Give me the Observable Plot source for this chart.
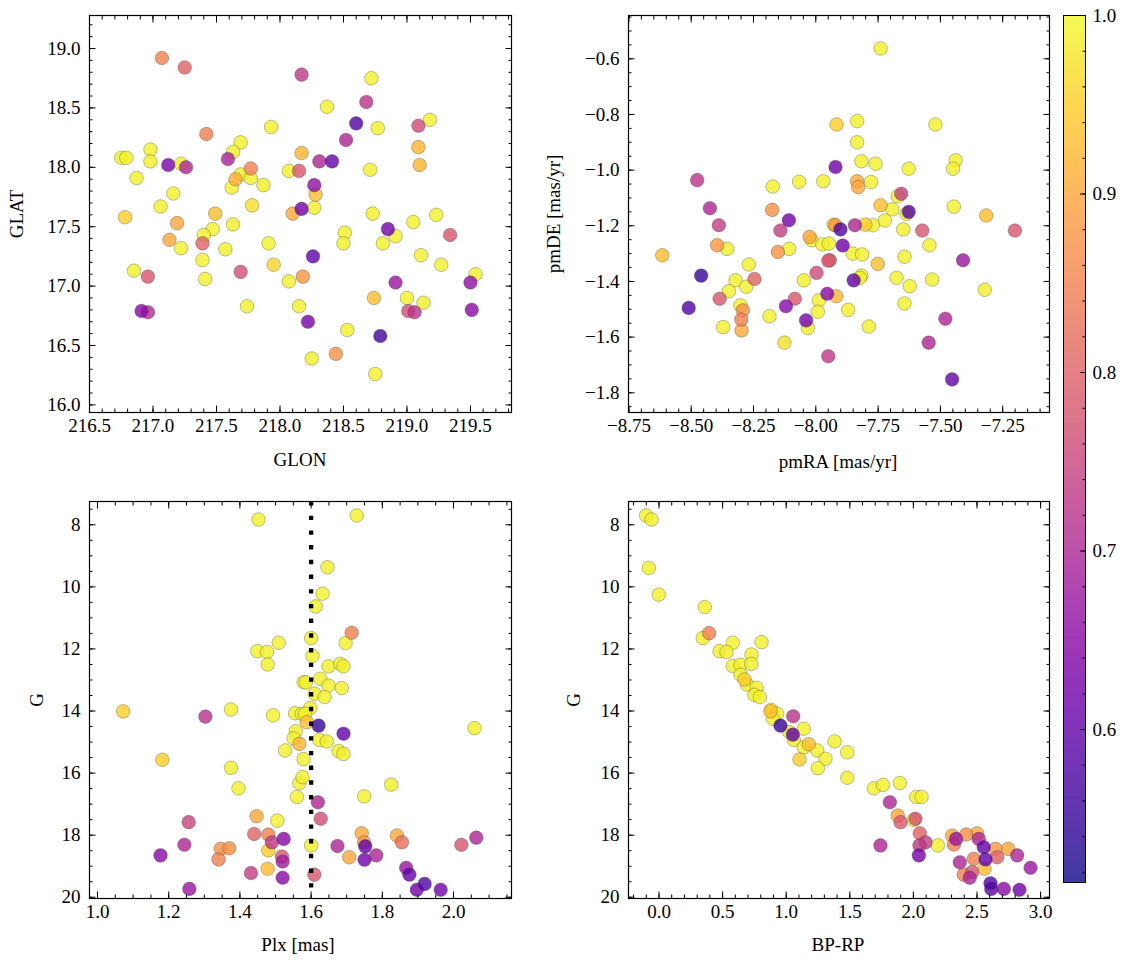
<!DOCTYPE html>
<html><head><meta charset="utf-8">
<script src="https://cdn.jsdelivr.net/npm/d3@7"></script>
<script src="https://cdn.jsdelivr.net/npm/@observablehq/plot@0.6"></script>
<style>
body{margin:0;background:#fff;}
#fig{position:relative;width:1133px;height:965px;font-family:"Liberation Serif",serif;font-size:19px;color:#000;overflow:hidden;}
#fig svg{position:absolute;}
#fig svg text{font-family:"Liberation Serif",serif !important;font-size:19px;}
.lab{position:absolute;white-space:nowrap;transform:translate(-50%,-50%);line-height:1;}
.rot{transform:translate(-50%,-50%) rotate(-90deg);}
</style></head><body><div id="fig"></div>
<script>
// ---------- data ----------
// Panel 1: GLON / GLAT / membership probability
const p1_glon = [217.07,217.25,218.17,217.93,217.42,217.69,217.63,217.59,216.98,216.98,216.75,216.79,217.12,217.22,217.26,216.87,217.69,217.77,217.77,217.65,217.62,217.87,218.07,218.15,218.17,217.16,217.06,216.78,217.78,217.49,217.19,217.63,218.10,218.17,217.47,217.40,217.39,217.13,217.22,217.57,217.91,217.39,217.95,216.85,216.96,217.41,217.69,218.07,218.18,216.91,216.96,217.74,218.15,218.22,218.72,218.37,218.68,218.60,218.77,218.52,219.09,219.18,219.09,219.10,218.31,218.41,218.71,218.27,218.28,218.27,218.73,219.05,219.23,218.85,218.91,218.81,218.51,218.50,219.34,218.26,219.11,219.27,219.54,219.50,218.91,218.74,219.00,219.13,219.01,219.06,219.51,218.53,218.79,218.25,218.44,218.75];
const p1_glat = [18.92,18.84,18.78,18.34,18.28,18.21,18.13,18.07,18.15,18.05,18.08,18.08,18.02,18.03,18.00,17.91,17.94,17.99,17.91,17.90,17.83,17.85,17.97,17.97,18.12,17.78,17.67,17.58,17.68,17.61,17.53,17.52,17.61,17.65,17.48,17.43,17.36,17.39,17.32,17.31,17.36,17.22,17.18,17.13,17.08,17.06,17.12,17.04,17.08,16.79,16.78,16.83,16.83,16.70,18.75,18.51,18.55,18.37,18.33,18.23,18.35,18.40,18.17,18.02,18.05,18.05,17.98,17.85,17.77,17.66,17.61,17.54,17.60,17.48,17.42,17.36,17.45,17.36,17.43,17.25,17.26,17.18,17.10,17.03,17.03,16.90,16.90,16.86,16.79,16.78,16.80,16.63,16.58,16.39,16.43,16.26];
const p1_prob = [0.85,0.80,0.73,0.99,0.85,0.99,0.99,0.69,0.99,0.99,0.99,0.99,0.63,0.99,0.70,0.99,0.99,0.85,0.99,0.91,0.99,0.99,0.99,0.78,0.92,0.99,0.99,0.95,0.97,0.93,0.90,0.99,0.90,0.62,0.99,0.99,0.80,0.90,0.99,0.99,0.99,0.99,0.96,0.99,0.78,0.99,0.77,0.99,0.88,0.65,0.71,0.99,0.99,0.63,0.99,0.99,0.72,0.58,0.99,0.70,0.76,0.99,0.92,0.92,0.70,0.60,0.99,0.66,0.93,0.99,0.99,0.99,0.99,0.62,0.99,0.99,0.99,0.99,0.78,0.60,0.99,0.99,0.99,0.66,0.67,0.93,0.99,0.99,0.77,0.72,0.65,0.99,0.56,0.99,0.87,0.99];

// Panel 2: proper motions
const p2_pmra = [-8.616,-8.476,-8.460,-8.510,-8.425,-8.389,-8.396,-8.356,-8.269,-8.322,-8.246,-8.349,-8.279,-8.386,-8.302,-8.293,-8.299,-8.298,-8.372,-8.186,-8.126,-8.173,-8.067,-7.970,-8.175,-8.108,-8.142,-8.152,-8.107,-8.025,-8.016,-7.974,-7.950,-7.997,-8.048,-8.084,-8.120,-7.988,-7.992,-8.039,-8.032,-7.954,-7.950,-7.740,-7.917,-7.834,-7.520,-7.834,-7.817,-7.760,-7.921,-7.627,-7.439,-7.449,-7.834,-7.830,-7.778,-7.671,-7.657,-7.740,-7.693,-7.636,-7.627,-7.723,-7.446,-7.316,-7.201,-7.573,-7.649,-7.921,-7.928,-7.901,-7.843,-7.801,-7.771,-7.892,-7.948,-7.944,-7.852,-7.814,-7.751,-7.644,-7.544,-7.409,-7.817,-7.823,-7.848,-7.676,-7.623,-7.533,-7.322,-7.918,-7.870,-7.644,-7.787,-7.480,-7.547,-7.453];
const p2_pmde = [-1.306,-1.036,-1.379,-1.495,-1.137,-1.198,-1.270,-1.283,-1.339,-1.396,-1.391,-1.435,-1.419,-1.462,-1.486,-1.504,-1.537,-1.576,-1.564,-1.525,-1.620,-1.059,-1.042,-1.040,-1.143,-1.180,-1.217,-1.294,-1.283,-1.240,-1.252,-1.267,-1.325,-1.369,-1.396,-1.462,-1.489,-1.468,-1.509,-1.540,-1.567,-1.444,-1.669,-0.563,-0.836,-0.824,-0.836,-0.900,-0.968,-0.977,-0.989,-0.995,-0.965,-0.995,-1.040,-1.061,-1.043,-1.094,-1.085,-1.126,-1.141,-1.157,-1.150,-1.181,-1.131,-1.163,-1.217,-1.217,-1.213,-1.198,-1.196,-1.213,-1.198,-1.196,-1.198,-1.271,-1.264,-1.324,-1.300,-1.303,-1.337,-1.311,-1.270,-1.324,-1.379,-1.387,-1.396,-1.387,-1.417,-1.393,-1.430,-1.453,-1.502,-1.479,-1.562,-1.534,-1.620,-1.752];
const p2_prob = [0.93,0.72,0.55,0.58,0.70,0.74,0.88,0.99,0.99,0.99,0.80,0.99,0.99,0.78,0.99,0.87,0.85,0.90,0.99,0.99,0.97,0.99,0.99,0.99,0.87,0.62,0.74,0.87,0.99,0.90,0.99,0.99,0.78,0.76,0.99,0.78,0.65,0.99,0.99,0.63,0.99,0.65,0.73,0.99,0.95,0.99,0.99,0.99,0.99,0.99,0.62,0.99,0.99,0.99,0.90,0.90,0.99,0.99,0.74,0.93,0.99,0.99,0.58,0.99,0.99,0.93,0.78,0.78,0.99,0.88,0.95,0.58,0.70,0.95,0.99,0.62,0.99,0.80,0.99,0.99,0.93,0.99,0.99,0.67,0.99,0.99,0.60,0.99,0.99,0.99,0.99,0.92,0.99,0.99,0.99,0.70,0.70,0.60];

// Panel 3: parallax / G magnitude
const p3_plx = [1.452,1.449,1.476,1.478,1.509,1.579,1.072,1.303,1.375,1.493,1.555,1.574,1.557,1.551,1.567,1.527,1.579,1.182,1.375,1.396,1.567,1.560,1.447,1.505,1.256,1.440,1.480,1.490,1.523,1.244,1.177,1.346,1.370,1.340,1.480,1.518,1.520,1.431,1.478,1.520,1.258,1.728,1.646,1.632,1.613,1.714,1.697,1.600,1.604,1.649,1.682,1.691,1.585,1.626,1.649,1.686,1.610,1.638,1.598,1.583,1.588,1.621,1.691,2.059,1.623,1.644,1.677,1.691,1.576,1.825,1.749,1.619,1.627,1.742,1.749,1.752,1.750,1.674,1.707,1.783,1.841,1.855,2.022,2.064,1.600,1.609,1.867,1.876,1.919,1.897,1.964];
const p3_g = [7.83,12.07,12.10,12.50,11.80,13.07,14.01,14.18,13.95,14.14,14.07,14.09,14.65,14.88,15.06,15.27,15.55,15.57,15.83,16.49,16.32,16.77,17.39,17.53,17.58,17.96,17.98,18.23,18.12,18.31,18.65,18.44,18.42,18.78,18.49,18.69,18.85,19.22,19.08,19.37,19.73,7.70,9.37,10.22,10.63,11.48,11.81,11.65,12.22,12.56,12.48,12.56,13.08,12.96,13.18,13.26,13.44,13.55,13.90,14.09,14.36,14.47,14.73,14.55,14.93,14.98,15.29,15.38,16.13,16.37,16.75,16.94,17.47,17.94,18.23,18.36,18.79,18.35,18.71,18.65,18.01,18.23,18.31,18.08,18.33,19.27,19.05,19.27,19.57,19.76,19.76];
const p3_prob = [0.99,0.99,0.99,0.99,0.99,0.99,0.95,0.72,0.99,0.99,0.99,0.99,0.99,0.99,0.92,0.99,0.99,0.95,0.99,0.99,0.99,0.99,0.90,0.99,0.75,0.80,0.85,0.73,0.65,0.70,0.65,0.87,0.87,0.85,0.95,0.78,0.68,0.74,0.93,0.65,0.67,0.99,0.99,0.99,0.99,0.85,0.99,0.99,0.99,0.99,0.99,0.99,0.99,0.99,0.99,0.99,0.99,0.99,0.99,0.99,0.93,0.55,0.60,0.99,0.99,0.99,0.99,0.99,0.99,0.99,0.99,0.70,0.77,0.90,0.88,0.60,0.62,0.70,0.90,0.70,0.90,0.82,0.78,0.70,0.99,0.78,0.67,0.60,0.58,0.62,0.62];
const plxLine = [1.60];

// Panel 4: colour / G magnitude
const p4_bprp = [-0.101,-0.059,-0.080,-0.002,0.360,0.344,0.394,0.580,0.806,0.476,0.531,0.580,0.641,0.727,0.725,0.641,0.672,0.693,0.767,0.751,0.793,0.882,0.877,0.929,0.895,1.055,0.955,1.052,1.024,1.138,1.060,1.178,1.138,1.244,1.309,1.105,1.249,1.380,1.480,1.480,1.689,1.760,1.893,2.022,2.064,1.815,1.877,1.899,2.003,2.016,2.050,1.741,2.048,2.095,2.043,2.192,2.305,2.318,2.336,2.415,2.501,2.514,2.553,2.365,2.475,2.567,2.645,2.659,2.745,2.816,2.921,2.396,2.462,2.443,2.559,2.606,2.612,2.711,2.834];
const p4_g = [7.70,7.83,9.39,10.25,10.65,11.65,11.49,11.80,11.78,12.07,12.10,12.55,12.51,12.18,12.48,12.83,12.98,13.15,13.25,13.48,13.55,13.96,14.01,14.09,14.25,14.17,14.47,14.76,14.68,14.57,14.93,15.07,15.17,15.27,15.54,15.56,15.84,14.98,15.33,16.15,16.49,16.38,16.32,16.77,16.77,16.94,17.37,17.58,17.51,17.47,17.94,18.33,18.33,18.23,18.65,18.33,18.01,18.30,18.12,17.98,17.94,18.12,18.39,18.87,18.76,18.78,18.44,18.71,18.44,18.65,19.05,19.27,19.19,19.37,19.08,19.55,19.73,19.73,19.76];
const p4_prob = [0.99,0.99,0.99,0.99,0.99,0.99,0.85,0.99,0.99,0.99,0.99,0.99,0.99,0.99,0.99,0.99,0.95,0.99,0.99,0.99,0.99,0.99,0.93,0.99,0.99,0.72,0.55,0.60,0.99,0.99,0.99,0.93,0.99,0.99,0.99,0.95,0.99,0.99,0.99,0.99,0.99,0.99,0.99,0.99,0.99,0.70,0.90,0.78,0.99,0.77,0.80,0.70,0.73,0.74,0.63,0.99,0.90,0.85,0.67,0.87,0.90,0.70,0.60,0.70,0.85,0.60,0.88,0.80,0.90,0.70,0.67,0.85,0.78,0.70,0.93,0.58,0.60,0.65,0.62];

// Tick labels
const p1_xticks = [216.5,217.0,217.5,218.0,218.5,219.0,219.5];
const p1_yticks = [16.0,16.5,17.0,17.5,18.0,18.5,19.0];
const p2_xticks = [-8.75,-8.50,-8.25,-8.00,-7.75,-7.50,-7.25];
const p2_yticks = [-1.8,-1.6,-1.4,-1.2,-1.0,-0.8,-0.6];
const p3_xticks = [1.0,1.2,1.4,1.6,1.8,2.0];
const g_ticks = [8,10,12,14,16,18,20];
const p4_xticks = [0.0,0.5,1.0,1.5,2.0,2.5,3.0];
const cb_ticks = [0.6,0.7,0.8,0.9,1.0];
const CDOMAIN = [0.5143, 1.0];

// ---------- drawing ----------
const STYLE = 'background:transparent;overflow:visible;font-family:"Liberation Serif",serif;font-size:19px;color:black;';
const fig = document.getElementById("fig");
const M = {l: 80, r: 40, t: 30, b: 50};

function minor(domain, step) {
  const lo = Math.min(...domain), hi = Math.max(...domain);
  return d3.range(Math.ceil(lo / step - 1e-9), Math.floor(hi / step + 1e-9) + 1).map(k => +(k * step).toFixed(6));
}
function inDom(vals, domain) {
  const lo = Math.min(...domain) - 1e-9, hi = Math.max(...domain) + 1e-9;
  return vals.filter(v => v >= lo && v <= hi);
}
function tickMarks(xd, yd, xMaj, yMaj, xStep, yStep) {
  const blank = () => "";
  const o = {tickFormat: blank, label: null, strokeWidth: 1};
  const out = [];
  for (const a of ["bottom", "top"]) {
    out.push(Plot.axisX(inDom(xMaj, xd), {...o, anchor: a, tickSize: -6.5}));
    out.push(Plot.axisX(minor(xd, xStep), {...o, anchor: a, tickSize: -3.5}));
  }
  for (const a of ["left", "right"]) {
    out.push(Plot.axisY(inDom(yMaj, yd), {...o, anchor: a, tickSize: -6.5}));
    out.push(Plot.axisY(minor(yd, yStep), {...o, anchor: a, tickSize: -3.5}));
  }
  return out;
}

function panel(o) {
  const data = o.xs.map((x, i) => ({x, y: o.ys[i], p: o.ps[i]})).sort((a, b) => b.p - a.p);
  const svg = Plot.plot({
    width: o.W + M.l + M.r, height: o.H + M.t + M.b,
    marginLeft: M.l, marginRight: M.r, marginTop: M.t, marginBottom: M.b,
    style: STYLE,
    x: {domain: o.xd, label: null},
    y: {domain: o.yd, reverse: !!o.yrev, label: null},
    color: {type: "linear", scheme: "plasma", domain: CDOMAIN},
    marks: [
      Plot.dot(data, {x: "x", y: "y", fill: "p", r: 6.8, fillOpacity: 0.8, stroke: "#3a3a3a", strokeOpacity: 0.55, strokeWidth: 0.6}),
      ...(o.extra || []),
      Plot.frame({stroke: "black", strokeWidth: 1.2}),
      ...tickMarks(o.xd, o.yd, o.xt, o.yt, o.xs_step, o.ys_step),
      Plot.axisX(inDom(o.xt, o.xd), {anchor: "bottom", tickSize: 0, tickPadding: 6, tickFormat: d3.format(o.xf), label: null}),
      Plot.axisY(inDom(o.yt, o.yd), {anchor: "left", tickSize: 0, tickPadding: 9, tickFormat: d3.format(o.yf), label: null})
    ]
  });
  svg.style.left = (o.L - M.l) + "px";
  svg.style.top = (o.T - M.t) + "px";
  fig.appendChild(svg);
}

panel({xs: p1_glon, ys: p1_glat, ps: p1_prob, L: 89, T: 15, W: 422, H: 397,
  xd: [216.5, 219.823], yd: [15.936, 19.278], xt: p1_xticks, yt: p1_yticks,
  xs_step: 0.1, ys_step: 0.1, xf: ".1f", yf: ".1f"});

panel({xs: p2_pmra, ys: p2_pmde, ps: p2_prob, L: 628, T: 15, W: 421, H: 397,
  xd: [-8.7516, -7.0622], yd: [-1.8709, -0.4444], xt: p2_xticks, yt: p2_yticks,
  xs_step: 0.05, ys_step: 0.05, xf: ".2f", yf: ".1f"});

panel({xs: p3_plx, ys: p3_g, ps: p3_prob, L: 89, T: 501, W: 422, H: 397,
  xd: [0.9775, 2.1629], yd: [7.25, 20.04], yrev: true, xt: p3_xticks, yt: g_ticks,
  xs_step: 0.05, ys_step: 0.5, xf: ".1f", yf: "d",
  extra: [Plot.ruleX(plxLine, {stroke: "black", strokeWidth: 4.3, strokeDasharray: "4.4 10.3"})]});

panel({xs: p4_bprp, ys: p4_g, ps: p4_prob, L: 628, T: 501, W: 421, H: 397,
  xd: [-0.2398, 3.070], yd: [7.25, 20.04], yrev: true, xt: p4_xticks, yt: g_ticks,
  xs_step: 0.1, ys_step: 0.5, xf: ".1f", yf: "d"});

// colorbar (plasma at 80% opacity over white, drawn opaque to avoid seams)
(function () {
  const step = 0.0025;
  const vals = d3.range(CDOMAIN[0], CDOMAIN[1], step);
  const CB = {L: 1063, T: 15, W: 22, H: 867};
  const m = {l: 10, r: 60, t: 20, b: 20};
  const blank = () => "";
  const svg = Plot.plot({
    width: CB.W + m.l + m.r, height: CB.H + m.t + m.b,
    marginLeft: m.l, marginRight: m.r, marginTop: m.t, marginBottom: m.b,
    style: STYLE,
    x: {domain: [0, 1], label: null, axis: null},
    y: {domain: CDOMAIN, label: null},
    color: {type: "linear", domain: CDOMAIN, interpolate: t => d3.interpolateRgb("white", d3.interpolatePlasma(t))(0.8)},
    marks: [
      Plot.rect(vals, {x1: () => 0, x2: () => 1, y1: d => d, y2: d => Math.min(d + step * 1.5, CDOMAIN[1]), fill: d => d + step / 2}),
      Plot.frame({stroke: "black", strokeWidth: 1}),
      Plot.axisY(cb_ticks, {anchor: "right", tickSize: -6, tickFormat: blank, label: null}),
      Plot.axisY(minor(CDOMAIN, 0.02), {anchor: "right", tickSize: -3.5, tickFormat: blank, label: null}),
      Plot.axisY(cb_ticks, {anchor: "right", tickSize: 0, tickPadding: 7, tickFormat: d3.format(".1f"), label: null})
    ]
  });
  svg.style.left = (CB.L - m.l) + "px";
  svg.style.top = (CB.T - m.t) + "px";
  fig.appendChild(svg);
})();

// axis titles
const titles = [
  {t: "GLON", x: 300, y: 459},
  {t: "GLAT", x: 16, y: 214, rot: true},
  {t: "pmRA [mas/yr]", x: 838, y: 461},
  {t: "pmDE [mas/yr]", x: 553, y: 214, rot: true},
  {t: "Plx [mas]", x: 298, y: 944},
  {t: "G", x: 36, y: 700, rot: true},
  {t: "BP-RP", x: 838, y: 944},
  {t: "G", x: 573, y: 700, rot: true}
];
for (const d of titles) {
  const el = document.createElement("div");
  el.className = "lab" + (d.rot ? " rot" : "");
  el.textContent = d.t;
  el.style.left = d.x + "px";
  el.style.top = d.y + "px";
  fig.appendChild(el);
}
</script></body></html>
